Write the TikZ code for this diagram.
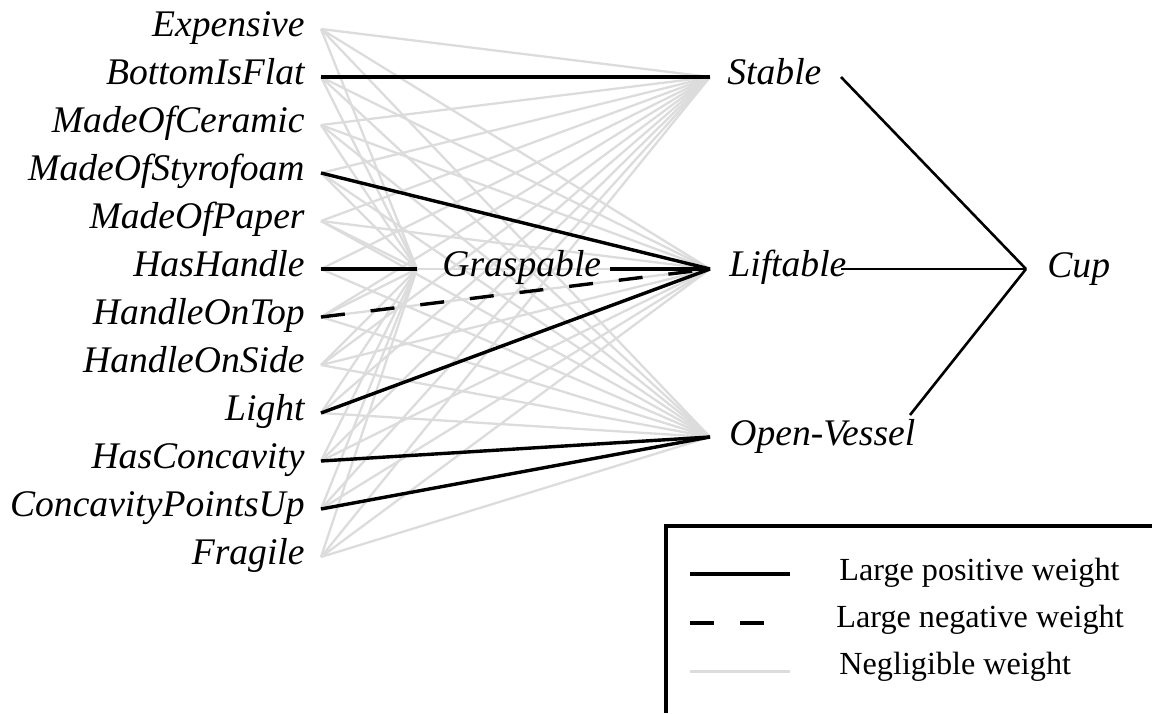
\documentclass[tikz,border=0pt]{standalone}
\usepackage{fontspec}
\setmainfont{Liberation Serif}
\definecolor{wgray}{RGB}{220,220,220}
\begin{document}
\begin{tikzpicture}[x=0.5pt,y=-0.5pt,
  lbl/.style={font=\fontsize{18.8}{22}\selectfont\itshape, inner sep=0pt},
  legtext/.style={font=\fontsize{16.1}{19}\selectfont, inner sep=0pt, anchor=base west},
  poswt/.style={line width=1.7pt, black},
  negwt/.style={line width=1.7pt, black, dash pattern=on 12pt off 13pt},
  smallwt/.style={line width=1.15pt, wgray},
  outwt/.style={line width=1.3pt, black},
  framewt/.style={line width=1.6pt, black}]
\useasboundingbox (0,0) rectangle (1152,713);
% unit ports
\foreach \n [count=\i from 0] in {Exp,Bot,Cer,Sty,Pap,Han,Top,Sid,Lig,Con,Cup,Fra}
  \coordinate (\n) at (321, 29+48*\i);
\coordinate (GrL) at (417,269); \coordinate (GrR) at (610,269);
\coordinate (StL) at (710,77);  \coordinate (StR) at (841,77);
\coordinate (LiL) at (710,269); \coordinate (LiR) at (841,269);
\coordinate (OvL) at (710,437); \coordinate (OvR) at (910,415);
\coordinate (Out) at (1026,269);
% negligible weights
\foreach \n in {Exp,Bot,Cer,Sty,Pap,Han,Top,Sid,Lig,Con,Cup,Fra}
  \foreach \h in {GrL,StL,LiL,OvL}
    \draw[smallwt] (\n) -- (\h);
% large weights
\draw[poswt] (Bot) -- (StL);
\draw[poswt] (Sty) -- (LiL);
\draw[poswt] (Han) -- (GrL);
\draw[poswt] (GrR) -- (LiL);
\draw[negwt] (Top) -- (LiL);
\draw[poswt] (Lig) -- (LiL);
\draw[poswt] (Con) -- (OvL);
\draw[poswt] (Cup) -- (OvL);
\draw[outwt] (StR) -- (Out);
\draw[outwt] (LiR) -- (Out);
\draw[outwt] (OvR) -- (Out);
% labels
\foreach \n/\t [count=\i from 0] in {Exp/Expensive, Bot/BottomIsFlat, Cer/MadeOfCeramic, Sty/MadeOfStyrofoam, Pap/MadeOfPaper, Han/HasHandle, Top/HandleOnTop, Sid/HandleOnSide, Lig/Light, Con/HasConcavity, Cup/ConcavityPointsUp, Fra/Fragile}
  \node[lbl, anchor=base east] (t\n) at (305, 36+48*\i) {\t};
\node[lbl, anchor=base west] (tGr) at (442,276) {Graspable};
\node[lbl, anchor=base west] (tSt) at (727,84) {Stable};
\node[lbl, anchor=base west] (tLi) at (729,276) {Liftable};
\node[lbl, anchor=base west] (tOv) at (729,445) {Open-Vessel};
\node[lbl, anchor=base west] (tOut) at (1047,277) {Cup};
% legend
\draw[framewt] (666,713) -- (666,526) -- (1152,526);
\coordinate (a1) at (690,574); \coordinate (b1) at (790,574);
\coordinate (a2) at (690,623); \coordinate (b2) at (790,623);
\coordinate (a3) at (690,671); \coordinate (b3) at (790,671);
\draw[poswt] (a1) -- (b1);
\draw[negwt] (a2) -- (b2);
\draw[smallwt, line width=1.5pt] (a3) -- (b3);
\node[legtext] (l1) at (839,580) {Large positive weight};
\node[legtext] (l2) at (836,627) {Large negative weight};
\node[legtext] (l3) at (839,674) {Negligible weight};
\end{tikzpicture}
\end{document}
